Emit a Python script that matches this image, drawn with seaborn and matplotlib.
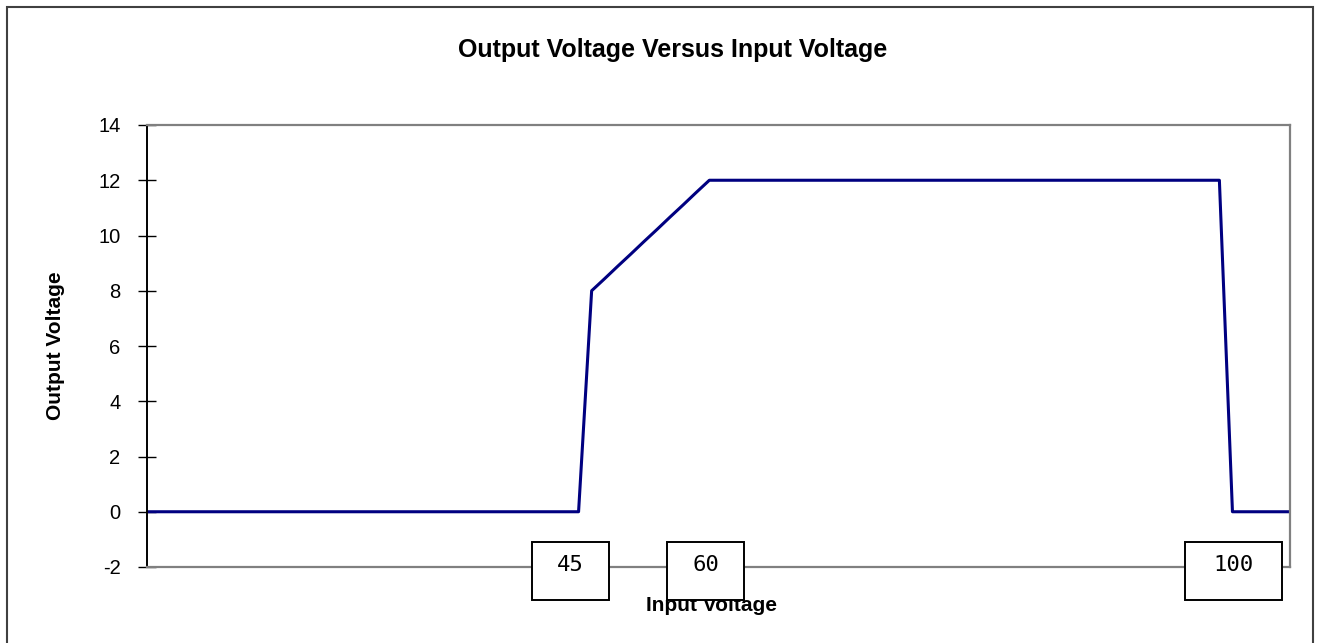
import numpy as np
import pandas as pd
import matplotlib
matplotlib.use("Agg")
import matplotlib.pyplot as plt
from matplotlib.patches import Rectangle
import seaborn as sns

# Output voltage read at each sample row (Excel line chart, category axis)
output_v = [
    0, 0, 0, 0, 0, 0, 0, 0, 0, 0,
    0, 0, 0, 0, 0, 0, 0, 0, 0, 0,
    0, 0, 0, 0, 0, 0, 0, 0, 0, 0,
    0, 0, 0, 0,
    8.0, 8.44, 8.89, 9.33, 9.78, 10.22, 10.67, 11.11, 11.56, 12.0,
    12, 12, 12, 12, 12, 12, 12, 12, 12, 12,
    12, 12, 12, 12, 12, 12, 12, 12, 12, 12,
    12, 12, 12, 12, 12, 12, 12, 12, 12, 12,
    12, 12, 12, 12, 12, 12, 12, 12, 12,
    0, 0, 0, 0, 0, 0,
]
y_ticks = [-2, 0, 2, 4, 6, 8, 10, 12, 14]
marker_labels = ["45", "60", "100"]

df = pd.DataFrame({"row": np.arange(len(output_v)), "output": output_v})

sns.set_style("white")
plt.rcParams["font.family"] = ["Liberation Sans", "DejaVu Sans"]
plt.rcParams["text.color"] = "black"
plt.rcParams["axes.labelcolor"] = "black"
plt.rcParams["ytick.color"] = "black"

W, H = 1321, 643
fig = plt.figure(figsize=(W / 100, H / 100), dpi=100)
ax = fig.add_axes([147 / W, 1 - 567 / H, (1290 - 147) / W, (567 - 125) / H])

sns.lineplot(data=df, x="row", y="output", ax=ax, color="#000080", linewidth=2.2)

ax.set_xlim(0, 87.4)
ax.set_ylim(-2, 14)
ax.set_yticks(y_ticks)
ax.set_yticklabels([str(t) for t in y_ticks], fontsize=14.5)
ax.set_xticks([])
ax.tick_params(axis="y", direction="inout", length=13, width=1, color="black",
               labelcolor="black", pad=12.5, left=True)

for side in ["top", "right", "bottom"]:
    ax.spines[side].set_color("#808080")
    ax.spines[side].set_linewidth(1.6)
ax.spines["left"].set_color("black")
ax.spines["left"].set_linewidth(1.4)

ax.set_ylabel("Output Voltage", fontsize=15, fontweight="bold")
ax.yaxis.set_label_coords(-0.072, 0.5)
ax.set_xlabel("Input Voltage", fontsize=15, fontweight="bold")
ax.xaxis.set_label_coords(0.494, -0.066)
ax.xaxis.label.set_va("top")

fig.text(673 / W, 1 - 50 / H, "Output Voltage Versus Input Voltage",
         fontsize=18, fontweight="bold", ha="center", va="center")

# labelled boxes on the category axis
box_rows = [32.4, 42.7, 83.1]
box_widths = [5.89, 5.89, 7.42]
trans = ax.get_xaxis_transform()
for lab, cx, bw in zip(marker_labels, box_rows, box_widths):
    ax.add_patch(Rectangle((cx - bw / 2, -0.0747), bw, 0.1313, transform=trans,
                           facecolor="white", edgecolor="black", lw=1.4,
                           clip_on=False, zorder=5))
    ax.text(cx, 0.005, lab, transform=trans, ha="center", va="center",
            fontsize=16, family="DejaVu Sans Mono", zorder=6, clip_on=False)

# chart area border
fig.add_artist(Rectangle((7 / W, -0.05), (1313 - 7) / W, 1.05 - 7 / H,
                         transform=fig.transFigure, fill=False,
                         edgecolor="#404040", lw=1.5))

fig.savefig("out.png", dpi=100)
